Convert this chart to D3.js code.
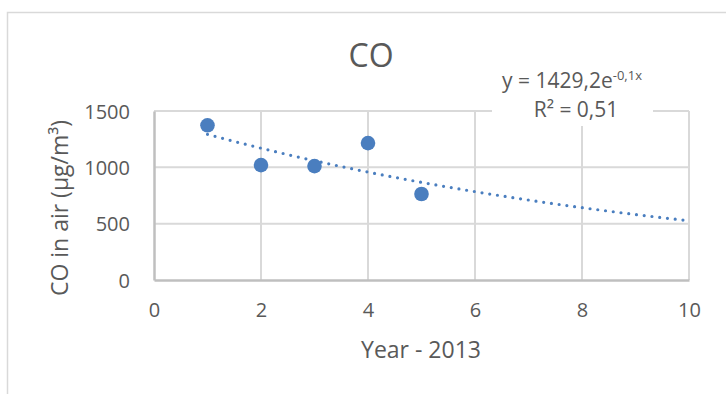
<!DOCTYPE html>
<html>
<head>
<meta charset="utf-8">
<script src="https://cdn.jsdelivr.net/npm/d3@7"></script>
<style>
  html, body { margin: 0; padding: 0; background: #fff; }
  svg { display: block; }
  text { font-family: "Open Sans", "Noto Sans", sans-serif; fill: #595959; }
</style>
</head>
<body>
<svg id="chart" width="726" height="394"></svg>
<script>
// Measurements of CO in air by year offset from 2013
const years = [1, 2, 3, 4, 5];
const coValues = [1373, 1020, 1011, 1215, 763];

// Exponential trendline y = a * e^(b x), as reported in the label
const trendA = 1429.2;
const trendB = -0.1;
const trendRange = [1, 10];
const trendLabel = ["y = 1429,2e", "-0,1x"];
const r2Label = "R² = 0,51";

const xTicks = [0, 2, 4, 6, 8, 10];
const yTicks = [0, 500, 1000, 1500];

const titleText = "CO";
const xTitle = "Year - 2013";
const yTitle = "CO in air (µg/m³)";

const svg = d3.select("#chart");
const plot = { left: 154, right: 689, top: 111, bottom: 280 };

const x = d3.scaleLinear().domain([0, 10]).range([plot.left, plot.right]);
const y = d3.scaleLinear().domain([0, 1500]).range([plot.bottom, plot.top]);

const blue = "#4a7ebf";

// chart area frame
svg.append("rect")
  .attr("x", 7.5).attr("y", 12.5)
  .attr("width", 800).attr("height", 500)
  .attr("fill", "#fff").attr("stroke", "#d9d9d9").attr("stroke-width", 1.5);

// gridlines
const grid = svg.append("g").attr("stroke", "#d9d9d9").attr("stroke-width", 2);
grid.selectAll("line.h").data(yTicks.filter(d => d > 0)).join("line")
  .attr("class", "h")
  .attr("x1", plot.left).attr("x2", plot.right)
  .attr("y1", d => y(d)).attr("y2", d => y(d));
grid.selectAll("line.v").data(xTicks.filter(d => d > 0)).join("line")
  .attr("class", "v")
  .attr("y1", plot.top).attr("y2", plot.bottom)
  .attr("x1", d => x(d)).attr("x2", d => x(d));

// axes
const xAxis = d3.axisBottom(x).tickValues(xTicks).tickSize(0).tickPadding(23)
  .tickFormat(d3.format("d"));
const yAxis = d3.axisLeft(y).tickValues(yTicks).tickSize(0).tickPadding(24)
  .tickFormat(d3.format("d"));

const gx = svg.append("g").attr("transform", `translate(0,${plot.bottom})`).call(xAxis);
const gy = svg.append("g").attr("transform", `translate(${plot.left},0)`).call(yAxis);
[gx, gy].forEach(g => {
  g.select(".domain").attr("stroke", "#bfbfbf").attr("stroke-width", 2.5);
  g.selectAll("text").style("font-size", "20px").attr("fill", "#595959")
    .style("font-family", "'Open Sans', sans-serif");
});
gx.selectAll("text").attr("dy", "0.71em");
gy.selectAll("text").attr("dy", "0.35em");

// trendline
const trendPts = d3.range(trendRange[0], trendRange[1] + 0.001, 0.05)
  .map(v => [v, trendA * Math.exp(trendB * v)]);
svg.append("path")
  .datum(trendPts)
  .attr("fill", "none")
  .attr("stroke", blue)
  .attr("stroke-width", 3.2)
  .attr("stroke-linecap", "round")
  .attr("stroke-dasharray", "0 7.8")
  .attr("d", d3.line().x(d => x(d[0])).y(d => y(d[1])));

// data points
svg.append("g").selectAll("circle")
  .data(years.map((v, i) => [v, coValues[i]]))
  .join("circle")
  .attr("cx", d => x(d[0]))
  .attr("cy", d => y(d[1]))
  .attr("r", 7.3)
  .attr("fill", blue);

// trendline label with white backing
svg.append("rect")
  .attr("x", 492).attr("y", 62)
  .attr("width", 161).attr("height", 64)
  .attr("fill", "#fff");
const eq = svg.append("text")
  .attr("x", 572).attr("y", 88)
  .attr("text-anchor", "middle")
  .style("font-size", "21px");
eq.append("tspan").text(trendLabel[0]);
eq.append("tspan").attr("dy", -8).style("font-size", "13px").text(trendLabel[1]);
svg.append("text")
  .attr("x", 576).attr("y", 117)
  .attr("text-anchor", "middle")
  .style("font-size", "21px")
  .text(r2Label);

// titles
svg.append("text")
  .attr("x", 371).attr("y", 67)
  .attr("text-anchor", "middle")
  .style("font-size", "32px")
  .text(titleText);

svg.append("text")
  .attr("x", 421).attr("y", 358)
  .attr("text-anchor", "middle")
  .style("font-size", "23px")
  .text(xTitle);

svg.append("text")
  .attr("transform", `translate(68,208) rotate(-90)`)
  .attr("text-anchor", "middle")
  .style("font-size", "23px")
  .text(yTitle);
</script>
</body>
</html>
